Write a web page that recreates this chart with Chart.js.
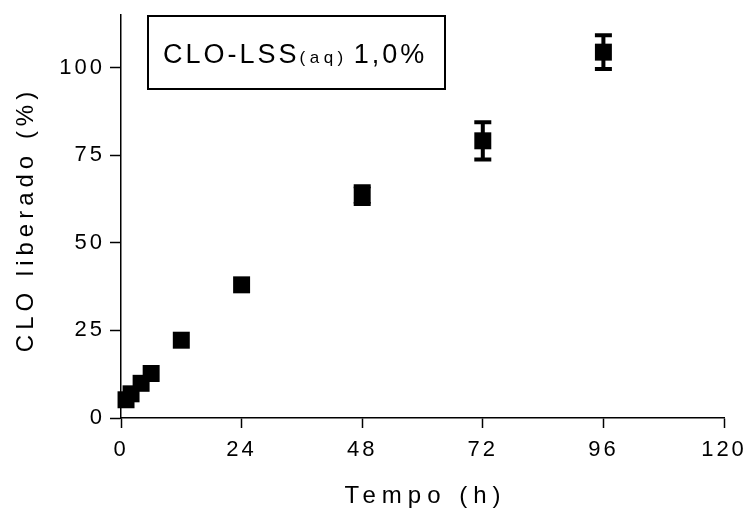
<!DOCTYPE html>
<html>
<head>
<meta charset="utf-8">
<script src="https://cdn.jsdelivr.net/npm/chart.js@4.4.1/dist/chart.umd.min.js"></script>
<style>
    html, body { margin: 0; padding: 0; background: #fff; }
</style>
</head>
<body>
<canvas id="myChart" width="745" height="514"></canvas>
<script>
// release data
const time_h = [1, 2, 4, 6, 12, 24, 48, 72, 96];
const released = [5.2, 6.9, 9.9, 12.7, 22.2, 38.0, 63.6, 79.1, 104.4];
const released_sd = [0, 0, 0, 0, 0, 0, 2.5, 5.3, 4.8];
const x_ticks = [0, 24, 48, 72, 96, 120];
const y_ticks = [0, 25, 50, 75, 100];
const x_title = 'Tempo (h)';
const y_title = 'CLO liberado (%)';
const box_main = 'CLO-LSS';
const box_sub = '(aq)';
const box_tail = '1,0%';

const FONT = '"Liberation Sans", Arial, Helvetica, sans-serif';

const errorBars = {
    id: 'errorBars',
    beforeDatasetsDraw(chart) {
        let ctx = chart.ctx;
        let xs = chart.scales.x;
        let ys = chart.scales.y;
        ctx.save();
        ctx.strokeStyle = '#000';
        ctx.lineWidth = 4;
        released.forEach((v, i) => {
            if (!released_sd[i]) return;
            let px = xs.getPixelForValue(time_h[i]);
            let top = ys.getPixelForValue(v + released_sd[i]);
            let bot = ys.getPixelForValue(v - released_sd[i]);
            ctx.beginPath();
            ctx.moveTo(px, top); ctx.lineTo(px, bot);
            ctx.moveTo(px - 8.5, top); ctx.lineTo(px + 8.5, top);
            ctx.moveTo(px - 8.5, bot); ctx.lineTo(px + 8.5, bot);
            ctx.stroke();
        });
        ctx.restore();
    }
};

const textDeco = {
    id: 'textDeco',
    beforeDraw(chart) {
        // spaced out tick labels
        chart.ctx.letterSpacing = '3px';
    },
    afterDraw(chart) {
        let ctx = chart.ctx;
        let area = chart.chartArea;
        ctx.save();
        ctx.fillStyle = '#000';
        ctx.strokeStyle = '#000';

        // axis titles
        ctx.letterSpacing = '6px';
        ctx.font = '24px ' + FONT;
        ctx.textAlign = 'center';
        ctx.textBaseline = 'middle';
        ctx.fillText(x_title, (area.left + area.right) / 2 + 3, area.bottom + 78);
        ctx.save();
        ctx.translate(26, (area.top + area.bottom) / 2 + 3);
        ctx.rotate(-Math.PI / 2);
        ctx.letterSpacing = '5px';
        ctx.fillText(y_title, 0, 0);
        ctx.restore();

        // label box
        let bx = area.left + 27, by = area.top + 1;
        ctx.lineWidth = 2;
        ctx.strokeRect(bx, by, 297, 73);
        ctx.textAlign = 'left';
        ctx.textBaseline = 'alphabetic';
        let tx = bx + 15, ty = by + 47;
        ctx.letterSpacing = '3px';
        ctx.font = '27px ' + FONT;
        ctx.fillText(box_main, tx, ty);
        tx += ctx.measureText(box_main).width;
        ctx.letterSpacing = '4.5px';
        ctx.font = '17px ' + FONT;
        ctx.fillText(box_sub, tx, ty);
        tx += ctx.measureText(box_sub).width + 6;
        ctx.letterSpacing = '3px';
        ctx.font = '27px ' + FONT;
        ctx.fillText(box_tail, tx, ty);
        ctx.restore();
        ctx.letterSpacing = '0px';
    }
};

let ctx = document.getElementById('myChart');
let chart = new Chart(ctx, {
    type: 'scatter',
    data: {
        datasets: [
            {
                label: 'CLO-LSS(aq) 1,0%',
                data: time_h.map((t, i) => ({ x: t, y: released[i] })),
                pointStyle: 'rect',
                pointRadius: 12,
                pointHoverRadius: 12,
                backgroundColor: '#000',
                borderWidth: 0,
                showLine: false,
                clip: false
            }
        ]
    },
    options: {
        responsive: false,
        animation: false,
        layout: { padding: { left: 0, right: 21, top: 15, bottom: 0 } },
        scales: {
            x: {
                type: 'linear',
                min: 0,
                max: 120,
                afterFit: (s) => { s.height = 96; s.paddingLeft = 0; s.paddingRight = 0; },
                afterBuildTicks: (s) => { s.ticks = x_ticks.map(v => ({ value: v })); },
                border: { display: true, color: '#000', width: 1.5 },
                grid: { drawOnChartArea: false, drawTicks: true, tickLength: 10, tickWidth: 1.5, tickColor: '#000' },
                ticks: { color: '#000', padding: 9, maxRotation: 0, font: { family: FONT, size: 22 } }
            },
            y: {
                type: 'linear',
                min: 0,
                max: 115,
                afterFit: (s) => { s.width = 121; s.paddingTop = 0; s.paddingBottom = 0; },
                afterBuildTicks: (s) => { s.ticks = y_ticks.map(v => ({ value: v })); },
                border: { display: true, color: '#000', width: 1.5 },
                grid: { drawOnChartArea: false, drawTicks: true, tickLength: 11, tickWidth: 1.5, tickColor: '#000' },
                ticks: { color: '#000', padding: 5, font: { family: FONT, size: 22 } }
            }
        },
        plugins: {
            legend: { display: false },
            tooltip: { enabled: false }
        }
    },
    plugins: [errorBars, textDeco]
});
</script>
</body>
</html>
